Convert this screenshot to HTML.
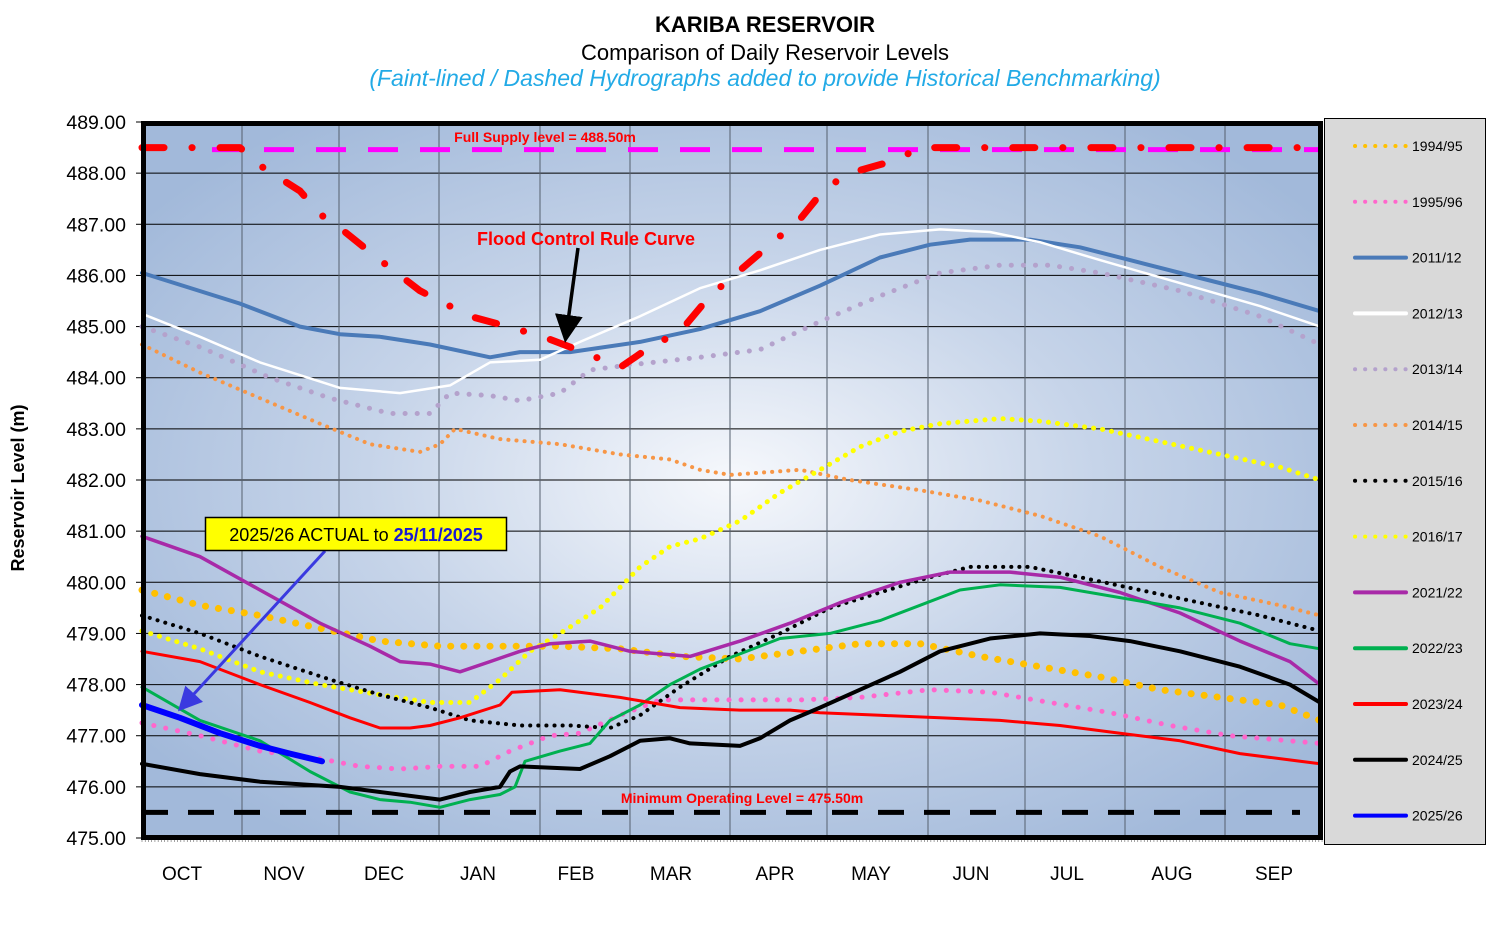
<!DOCTYPE html>
<html><head><meta charset="utf-8"><style>
html,body{margin:0;padding:0;background:#fff;}
svg{display:block;font-family:"Liberation Sans",Arial,sans-serif;}
</style></head><body>
<svg id="s" width="1486" height="940" viewBox="0 0 1486 940" xmlns="http://www.w3.org/2000/svg" xml:space="preserve">
<defs>
<radialGradient id="bg" cx="0.5" cy="0.5" r="0.62">
<stop offset="0" stop-color="#f6f8fc"/>
<stop offset="0.5" stop-color="#c6d4e9"/>
<stop offset="1" stop-color="#a2b9da"/>
</radialGradient>
<marker id="ab" markerWidth="8" markerHeight="8" refX="6" refY="4" orient="auto"><path d="M0,0 L8,4 L0,8 Z" fill="#000"/></marker>
<marker id="abl" markerWidth="8" markerHeight="8" refX="6" refY="4" orient="auto"><path d="M0,0 L8,4 L0,8 Z" fill="#3a3ae0"/></marker>
</defs>
<rect x="142" y="122" width="1180" height="716" fill="url(#bg)"/>
<g id="grid"></g>
<g id="series"></g>
<rect x="143.5" y="123.5" width="1177" height="714" fill="none" stroke="#000" stroke-width="5"/>
<rect x="1324.5" y="118.5" width="161" height="726" fill="#d9d9d9" stroke="#000" stroke-width="1"/>
<g id="legend"></g>
<text x="765" y="32" text-anchor="middle" font-size="22" font-weight="bold">KARIBA  RESERVOIR</text>
<text x="765" y="60" text-anchor="middle" font-size="22">Comparison  of Daily Reservoir  Levels</text>
<text x="765" y="86" text-anchor="middle" font-size="23" font-style="italic" fill="#22aae6">(Faint-lined / Dashed Hydrographs added to provide Historical Benchmarking)</text>
<text x="24" y="488" text-anchor="middle" font-size="18" font-weight="bold" transform="rotate(-90 24 488)">Reservoir Level (m)</text>
<text x="545" y="142" text-anchor="middle" font-size="14" font-weight="bold" fill="#ff0000">Full  Supply level  = 488.50m</text>
<text x="586" y="245" text-anchor="middle" font-size="18" font-weight="bold" fill="#ff0000">Flood Control Rule Curve</text>
<text x="742" y="803" text-anchor="middle" font-size="14" font-weight="bold" fill="#ff0000">Minimum  Operating Level = 475.50m</text>
<line x1="578" y1="248" x2="566" y2="336" stroke="#000" stroke-width="3.5" marker-end="url(#ab)"/>
<line x1="325" y1="551" x2="182" y2="707" stroke="#3a3ae0" stroke-width="3" marker-end="url(#abl)"/>
<rect x="205.5" y="517.5" width="301" height="33" fill="#ffff00" stroke="#000" stroke-width="1.5"/>
<text x="356" y="541" text-anchor="middle" font-size="18">2025/26 ACTUAL to <tspan font-weight="bold" fill="#1a1ad0">25/11/2025</tspan></text>
</svg>
<script>
const NS="http://www.w3.org/2000/svg";
const Y=v=>122+(489-v)*51.143;
function el(p,t,a,txt){const e=document.createElementNS(NS,t);for(const k in a)e.setAttribute(k,a[k]);if(txt!=null)e.textContent=txt;p.appendChild(e);return e;}
const g=document.getElementById('grid');
for(let v=475;v<=489;v++){const y=Y(v);
 el(g,'line',{x1:142,x2:1322,y1:y,y2:y,stroke:'#000','stroke-width':1});
 el(g,'line',{x1:136,x2:142,y1:y,y2:y,stroke:'#000','stroke-width':1});
 el(document.getElementById('s'),'text',{x:126,y:y+7,'text-anchor':'end','font-size':19.5},v.toFixed(2));}
const mx=[242,339,439,540,630,730,827,928,1025,1125,1225];
mx.forEach(x=>el(g,'line',{x1:x,x2:x,y1:122,y2:838,stroke:'#55606e','stroke-width':1}));
for(let d=0;d<=365;d++){const x=142+d*3.233;el(g,'line',{x1:x,x2:x,y1:838,y2:842,stroke:'#666','stroke-width':0.6});}
const ml=[['OCT',182],['NOV',284],['DEC',384],['JAN',478],['FEB',576],['MAR',671],['APR',775],['MAY',871],['JUN',971],['JUL',1067],['AUG',1172],['SEP',1274]];
ml.forEach(m=>el(document.getElementById('s'),'text',{x:m[1],y:880,'text-anchor':'middle','font-size':19},m[0]));
const S=document.getElementById('series');
function line(pts,st){const d=pts.map((p,i)=>(i?'L':'M')+p[0]+','+Y(p[1]).toFixed(1)).join(' ');
 el(S,'path',Object.assign({d:d,fill:'none','stroke-linecap':'round','stroke-linejoin':'round'},st));}
line([[212,488.46],[1322,488.46]],{stroke:'#ff00ff','stroke-width':5,'stroke-dasharray':'30 22','stroke-linecap':'butt'});
line([[142,475.5],[1300,475.5]],{stroke:'#000','stroke-width':5,'stroke-dasharray':'26 20','stroke-linecap':'butt'});
const dot=(c,w,gap)=>({stroke:c,'stroke-width':w,'stroke-dasharray':'0.1 '+gap});
const D={
'2013/14':[[142,485.0],[200,484.6],[270,484.0],[330,483.6],[390,483.3],[430,483.3],[450,483.7],[490,483.65],[520,483.55],[560,483.7],[590,484.15],[630,484.25],[700,484.4],[760,484.55],[820,485.1],[880,485.6],[940,486.05],[1000,486.2],[1050,486.2],[1100,486.05],[1180,485.7],[1260,485.2],[1320,484.65]],
'2014/15':[[142,484.65],[200,484.1],[260,483.6],[320,483.1],[370,482.7],[420,482.55],[440,482.7],[455,483.0],[500,482.8],[560,482.7],[620,482.5],[670,482.4],[700,482.2],[730,482.1],[800,482.2],[850,482.0],[920,481.8],[980,481.6],[1040,481.3],[1100,480.9],[1160,480.3],[1220,479.8],[1280,479.55],[1320,479.35]],
'2016/17':[[142,479.05],[200,478.7],[260,478.25],[320,478.0],[380,477.8],[430,477.65],[470,477.65],[500,478.1],[530,478.65],[560,479.0],[600,479.5],[640,480.3],[670,480.7],[700,480.85],[740,481.2],[780,481.75],[820,482.2],[860,482.65],[900,482.95],[940,483.1],[1000,483.2],[1040,483.15],[1100,483.0],[1160,482.75],[1220,482.5],[1280,482.25],[1320,482.0]],
'1994/95':[[142,479.85],[200,479.55],[260,479.35],[320,479.1],[380,478.85],[440,478.75],[500,478.75],[560,478.75],[620,478.7],[680,478.55],[740,478.5],[800,478.65],[860,478.8],[920,478.8],[980,478.55],[1040,478.35],[1100,478.15],[1160,477.9],[1220,477.75],[1280,477.6],[1320,477.3]],
'1995/96':[[142,477.25],[200,477.0],[260,476.7],[320,476.55],[360,476.4],[400,476.35],[440,476.4],[480,476.4],[510,476.7],[550,477.0],[580,477.05],[620,477.4],[660,477.7],[720,477.7],[800,477.7],[860,477.75],[930,477.9],[990,477.85],[1050,477.65],[1110,477.45],[1170,477.2],[1230,477.0],[1320,476.85]],
'2015/16':[[142,479.35],[200,479.0],[260,478.55],[330,478.1],[380,477.8],[430,477.55],[470,477.3],[520,477.2],[570,477.2],[610,477.15],[640,477.4],[680,477.95],[730,478.55],[780,479.0],[830,479.5],[880,479.8],[930,480.1],[970,480.3],[1030,480.3],[1080,480.1],[1140,479.85],[1200,479.6],[1260,479.35],[1320,479.05]],
'2011/12':[[142,486.05],[240,485.45],[300,485.0],[340,484.85],[380,484.8],[430,484.65],[490,484.4],[520,484.5],[570,484.5],[640,484.7],[700,484.95],[760,485.3],[820,485.8],[880,486.35],[930,486.6],[970,486.7],[1030,486.7],[1080,486.55],[1130,486.3],[1200,485.95],[1260,485.65],[1320,485.3]],
'2012/13':[[142,485.25],[200,484.8],[260,484.3],[340,483.8],[400,483.7],[450,483.85],[490,484.3],[540,484.35],[580,484.7],[640,485.2],[700,485.75],[760,486.1],[820,486.5],[880,486.8],[940,486.9],[990,486.85],[1040,486.65],[1100,486.3],[1180,485.85],[1260,485.4],[1320,485.0]],
'2021/22':[[142,480.9],[200,480.5],[260,479.85],[320,479.2],[370,478.75],[400,478.45],[430,478.4],[460,478.25],[490,478.45],[520,478.65],[550,478.8],[590,478.85],[630,478.65],[690,478.55],[740,478.85],[790,479.2],[840,479.6],[900,480.0],[950,480.2],[1010,480.2],[1060,480.1],[1120,479.8],[1180,479.4],[1240,478.85],[1290,478.45],[1320,478.0]],
'2022/23':[[142,477.95],[200,477.3],[260,476.9],[310,476.3],[350,475.9],[380,475.75],[410,475.7],[440,475.6],[470,475.75],[500,475.85],[515,476.0],[525,476.5],[560,476.7],[590,476.85],[610,477.3],[640,477.6],[670,478.0],[700,478.3],[740,478.6],[780,478.9],[830,479.0],[880,479.25],[920,479.55],[960,479.85],[1000,479.95],[1060,479.9],[1120,479.7],[1180,479.5],[1240,479.2],[1290,478.8],[1320,478.7]],
'2023/24':[[142,478.65],[200,478.45],[260,478.0],[310,477.65],[350,477.35],[380,477.15],[410,477.15],[430,477.2],[460,477.35],[500,477.6],[512,477.85],[560,477.9],[620,477.75],[680,477.55],[740,477.5],[790,477.5],[820,477.45],[880,477.4],[940,477.35],[1000,477.3],[1060,477.2],[1120,477.05],[1180,476.9],[1240,476.65],[1320,476.45]],
'2024/25':[[142,476.45],[200,476.25],[260,476.1],[300,476.05],[340,476.0],[380,475.9],[420,475.8],[440,475.75],[470,475.9],[500,476.0],[510,476.3],[520,476.4],[580,476.35],[610,476.6],[640,476.9],[670,476.95],[690,476.85],[740,476.8],[760,476.95],[790,477.3],[820,477.55],[860,477.9],[900,478.25],[940,478.65],[990,478.9],[1040,479.0],[1090,478.95],[1130,478.85],[1180,478.65],[1240,478.35],[1290,478.0],[1320,477.65]],
'2025/26':[[142,477.6],[180,477.35],[220,477.05],[260,476.8],[290,476.65],[322,476.5]]
};
const ST={
'1994/95':dot('#ffc000',7,13),'1995/96':dot('#ff66cc',5,12),'2011/12':{stroke:'#4a7ab8','stroke-width':4},
'2012/13':{stroke:'#fff','stroke-width':2.5},'2013/14':dot('#b4a2cc',5,12),'2014/15':dot('#f79646',4,8),
'2015/16':dot('#000',4,8),'2016/17':dot('#ffff00',5,9),'2021/22':{stroke:'#a82aa8','stroke-width':3.5},
'2022/23':{stroke:'#00b050','stroke-width':3},'2023/24':{stroke:'#ff0000','stroke-width':3},
'2024/25':{stroke:'#000','stroke-width':4},'2025/26':{stroke:'#0000ff','stroke-width':6}};
const order=['2013/14','2014/15','2016/17','1994/95','1995/96','2015/16','2011/12','2012/13','2021/22','2022/23','2023/24','2024/25','2025/26'];
order.forEach(k=>line(D[k],ST[k]));
line([[142,488.5],[240,488.5],[260,488.15],[280,487.9],[300,487.65],[320,487.2],[345,486.85],[380,486.3],[420,485.7],[445,485.45],[470,485.2],[517,484.95],[550,484.75],[570,484.6],[590,484.45],[620,484.2],[650,484.6],[680,484.9],[710,485.6],[740,486.1],[770,486.6],[800,487.1],[825,487.7],[850,488.0],[895,488.25],[920,488.5],[1320,488.5]],{stroke:'#ff0000','stroke-width':7,'stroke-dasharray':'22 28 0.1 28'});
const L=document.getElementById('legend');
const leg=['1994/95','1995/96','2011/12','2012/13','2013/14','2014/15','2015/16','2016/17','2021/22','2022/23','2023/24','2024/25','2025/26'];
leg.forEach((k,i)=>{const y=146+i*55.8;const st=Object.assign({},ST[k]);
 if(st['stroke-dasharray']){st['stroke-dasharray']='0.1 10';st['stroke-width']=4;}else{st['stroke-width']=4;}
 el(L,'path',Object.assign({d:`M1355,${y} L1406,${y}`,fill:'none','stroke-linecap':'round'},st));
 el(L,'text',{x:1412,y:y+5,'font-size':14},k);});
</script>
</body></html>
